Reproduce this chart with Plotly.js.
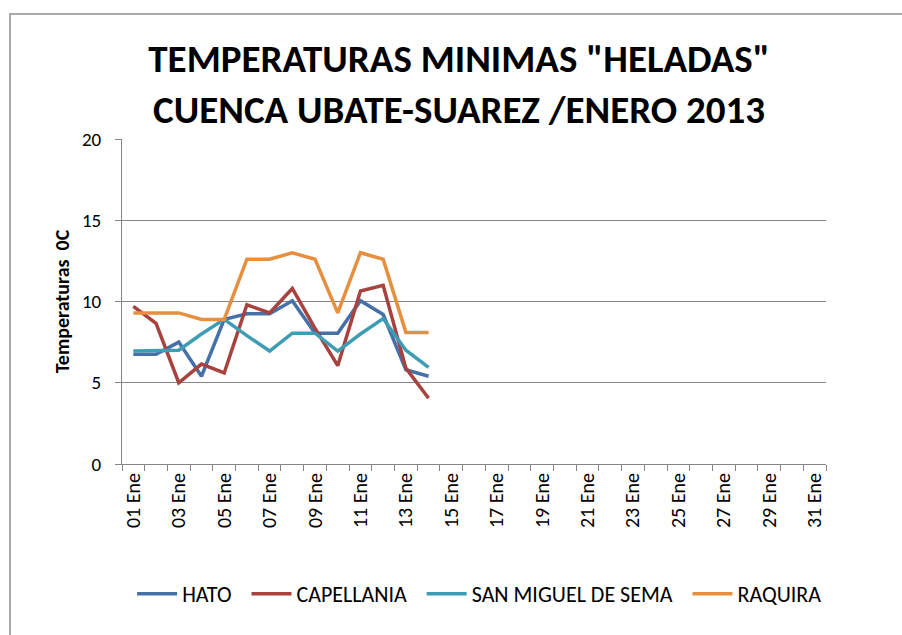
<!DOCTYPE html>
<html>
<head>
<meta charset="utf-8">
<script src="https://cdn.plot.ly/plotly-3.0.1.min.js"></script>
<style>
    body { margin: 0; background: #fff; }
    #grafico { width: 902px; height: 635px; }
    #marco {
        position: absolute; left: 9px; top: 13px; width: 900px; height: 630px;
        border-left: 2px solid #a9a9a9; border-top: 2px solid #a9a9a9;
        pointer-events: none;
    }
</style>
</head>
<body>
<div id="grafico"></div>
<div id="marco"></div>
<script>
// --- DATOS ---
const dias = [1, 2, 3, 4, 5, 6, 7, 8, 9, 10, 11, 12, 13, 14];
const hato = [6.75, 6.75, 7.5, 5.4, 8.9, 9.25, 9.25, 10.05, 8.05, 8.05, 10.05, 9.2, 5.8, 5.4];
const capellania = [9.7, 8.65, 5.0, 6.15, 5.6, 9.8, 9.3, 10.8, 8.35, 6.05, 10.65, 11.0, 5.9, 4.05];
const sanMiguel = [6.95, 6.95, 7.0, 8.0, 8.9, 7.9, 6.95, 8.05, 8.05, 6.95, 8.0, 8.95, 7.0, 5.95];
const raquira = [9.3, 9.3, 9.3, 8.9, 8.9, 12.6, 12.6, 13.0, 12.6, 9.3, 13.0, 12.6, 8.1, 8.1];

const etiquetasDias = [1, 3, 5, 7, 9, 11, 13, 15, 17, 19, 21, 23, 25, 27, 29, 31];
const textoDias = ['01 Ene', '03 Ene', '05 Ene', '07 Ene', '09 Ene', '11 Ene', '13 Ene', '15 Ene',
    '17 Ene', '19 Ene', '21 Ene', '23 Ene', '25 Ene', '27 Ene', '29 Ene', '31 Ene'];

const fuente = 'Carlito, Calibri, Lato, sans-serif';
const hueco = '\u00a0\u00a0'; // espacio extra entre items de la leyenda

function serie(nombre, valores, color) {
    return {
        x: dias,
        y: valores,
        name: nombre,
        type: 'scatter',
        mode: 'lines',
        line: { color: color, width: 3.5 }
    };
}

const data = [
    serie('HATO' + hueco, hato, '#4570a8'),
    serie('CAPELLANIA' + hueco, capellania, '#a8423f'),
    serie('SAN MIGUEL DE SEMA' + hueco, sanMiguel, '#3f9cb5'),
    serie('RAQUIRA', raquira, '#e6903f')
];

const layout = {
    width: 902,
    height: 635,
    margin: { l: 122, r: 76, t: 139, b: 171 },
    paper_bgcolor: '#fff',
    plot_bgcolor: '#fff',
    font: { family: fuente, color: '#000' },
    title: {
        text: 'TEMPERATURAS MINIMAS "HELADAS"<br>CUENCA UBATE-SUAREZ /ENERO 2013',
        font: { family: fuente, size: 39, color: '#000', weight: 'bold' },
        xref: 'container', x: 0.509, xanchor: 'center',
        yref: 'container', y: 1 - 72 / 635, yanchor: 'middle'
    },
    xaxis: {
        range: [0.5, 31.5],
        tickvals: etiquetasDias,
        ticktext: textoDias,
        tickangle: -90,
        ticks: '',
        tickfont: { size: 20, color: '#000' },
        showgrid: false,
        zeroline: false,
        showline: true,
        linecolor: '#868686',
        linewidth: 1,
        minor: { ticks: 'outside', tick0: 0.5, dtick: 1, ticklen: 6, tickcolor: '#868686', showgrid: false }
    },
    yaxis: {
        range: [0, 20],
        dtick: 5,
        ticks: 'outside',
        ticklen: 6,
        tickcolor: '#868686',
        ticklabelstandoff: 10,
        tickfont: { size: 19, color: '#000' },
        showgrid: true,
        gridcolor: '#868686',
        gridwidth: 1,
        zeroline: false,
        showline: true,
        linecolor: '#868686',
        linewidth: 1,
        title: { text: 'Temperaturas  0C', font: { size: 20, weight: 'bold', color: '#000' }, standoff: 6 }
    },
    showlegend: true,
    legend: {
        orientation: 'h',
        x: 0.508, xanchor: 'center',
        yref: 'container', y: 1 - 594 / 635, yanchor: 'middle',
        font: { size: 22, color: '#000' },
        itemwidth: 40,
        tracegroupgap: 0
    }
};

Plotly.newPlot('grafico', data, layout, { displayModeBar: false });
</script>
</body>
</html>
